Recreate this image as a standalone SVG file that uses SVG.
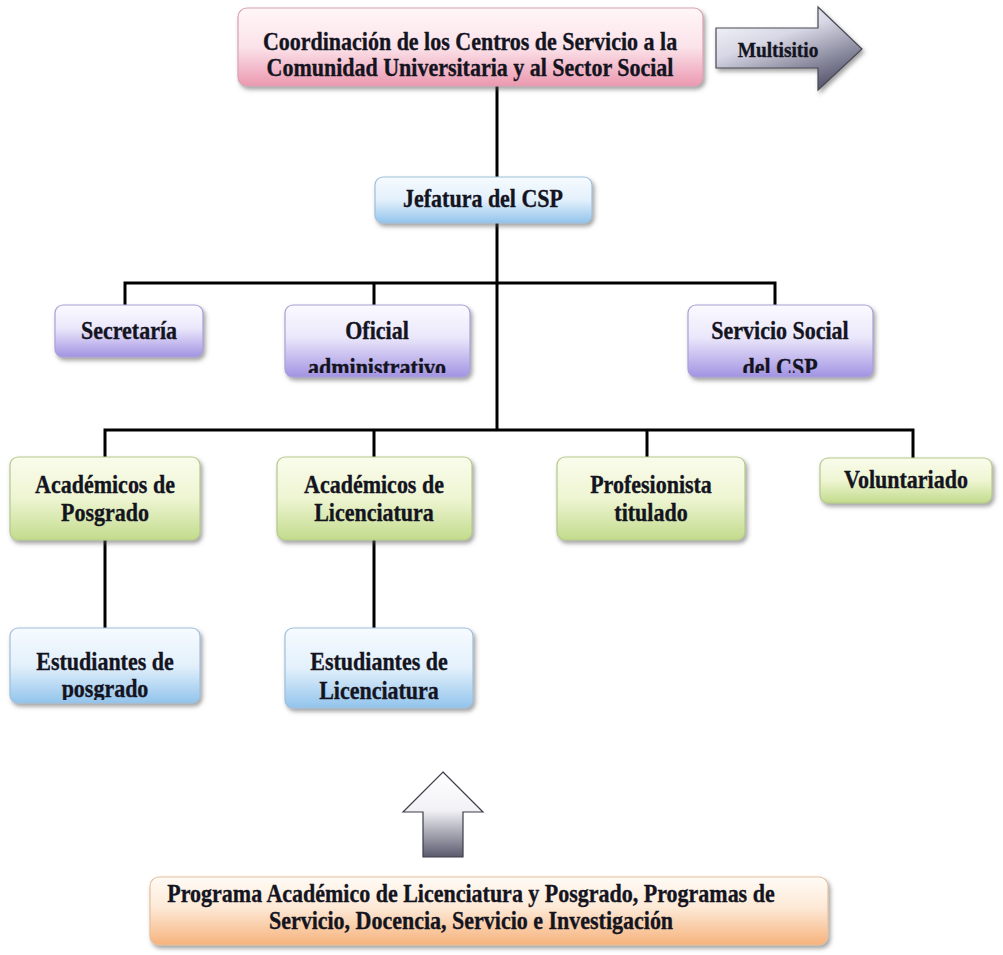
<svg xmlns="http://www.w3.org/2000/svg" width="1003" height="955" viewBox="0 0 1003 955">
  <defs>
    <style>
      .lbl { font-family: "Liberation Serif", "Times New Roman", serif; font-weight: bold; font-size: 25px; fill: #14141f; stroke: #14141f; stroke-width: 0.35; text-anchor: middle; }
      .sm { font-size: 22px; }
      .box { stroke-width: 1.2; filter: url(#shadow); }
      .pink { fill: url(#gPink); stroke: #d7a3b3; }
      .blue { fill: url(#gBlue); stroke: #9fbfdc; }
      .violet { fill: url(#gViolet); stroke: #aaa0d8; }
      .green { fill: url(#gGreen); stroke: #b5c98e; }
      .orange { fill: url(#gOrange); stroke: #e6c09c; }
      .wire { fill: none; stroke: #000; stroke-width: 3; }
    </style>
    <filter id="shadow" x="-10%" y="-20%" width="125%" height="150%">
      <feDropShadow dx="2" dy="3" stdDeviation="2" flood-color="#555" flood-opacity="0.55"/>
    </filter>
    <linearGradient id="gPink" x1="0" y1="0" x2="0" y2="1">
      <stop offset="0" stop-color="#fff6f8"/>
      <stop offset="0.5" stop-color="#fbe3ea"/>
      <stop offset="1" stop-color="#eb98b0"/>
    </linearGradient>
    <linearGradient id="gBlue" x1="0" y1="0" x2="0" y2="1">
      <stop offset="0" stop-color="#f6fbff"/>
      <stop offset="0.5" stop-color="#e3f0fb"/>
      <stop offset="1" stop-color="#92c4ec"/>
    </linearGradient>
    <linearGradient id="gViolet" x1="0" y1="0" x2="0" y2="1">
      <stop offset="0" stop-color="#fbfaff"/>
      <stop offset="0.45" stop-color="#ebe7fb"/>
      <stop offset="1" stop-color="#a293e2"/>
    </linearGradient>
    <linearGradient id="gGreen" x1="0" y1="0" x2="0" y2="1">
      <stop offset="0" stop-color="#fafcec"/>
      <stop offset="0.5" stop-color="#eef5d2"/>
      <stop offset="1" stop-color="#c2db8c"/>
    </linearGradient>
    <linearGradient id="gOrange" x1="0" y1="0" x2="0" y2="1">
      <stop offset="0" stop-color="#fffbf6"/>
      <stop offset="0.45" stop-color="#fde9d6"/>
      <stop offset="1" stop-color="#f6b27c"/>
    </linearGradient>
    <linearGradient id="gArrowR" x1="0" y1="0" x2="0.6" y2="1">
      <stop offset="0" stop-color="#ffffff"/>
      <stop offset="0.45" stop-color="#d8d8e6"/>
      <stop offset="1" stop-color="#5c5c74"/>
    </linearGradient>
    <linearGradient id="gArrowU" x1="0" y1="0" x2="0" y2="1">
      <stop offset="0" stop-color="#ffffff"/>
      <stop offset="0.45" stop-color="#f2f2f6"/>
      <stop offset="1" stop-color="#5a5a6e"/>
    </linearGradient>
    <!-- clip areas for labels that overflow the box bottom -->
    <clipPath id="clipOficial"><rect x="285" y="305" width="185" height="68"/></clipPath>
    <clipPath id="clipServicio"><rect x="688" y="305" width="185" height="68"/></clipPath>
    <clipPath id="clipEstPos"><rect x="10" y="628" width="190" height="72"/></clipPath>
  </defs>

  <rect width="1003" height="955" fill="#ffffff"/>

  <!-- connectors -->
  <g id="connectors">
    <path class="wire" d="M497 86 V177"/>
    <path class="wire" d="M497 223 V430"/>
    <path class="wire" d="M125 305 V283 H775 V305"/>
    <path class="wire" d="M374 283 V305"/>
    <path class="wire" d="M105 457 V430 H913 V458"/>
    <path class="wire" d="M374 430 V457"/>
    <path class="wire" d="M647 430 V457"/>
    <path class="wire" d="M105 540 V628"/>
    <path class="wire" d="M374 540 V628"/>
  </g>

  <!-- labels use a narrowed serif: translate to the anchor, then squeeze horizontally -->
  <g id="coordinacion">
    <rect class="box pink" x="238" y="8" width="465" height="78" rx="9"/>
    <text class="lbl" transform="translate(470 50) scale(0.88 1)">Coordinación de los Centros de Servicio a la</text>
    <text class="lbl" transform="translate(470 76) scale(0.88 1)">Comunidad Universitaria y al Sector Social</text>
  </g>

  <g id="multisitio">
    <path d="M716 28 H818 V7 L862 49 L818 90 V68 H716 Z" fill="url(#gArrowR)" stroke="#4a4a55" stroke-width="1.2" filter="url(#shadow)"/>
    <text class="lbl sm" transform="translate(778 57) scale(0.88 1)">Multisitio</text>
  </g>

  <g id="jefatura">
    <rect class="box blue" x="375" y="177" width="217" height="46" rx="8"/>
    <text class="lbl" transform="translate(483 207) scale(0.88 1)">Jefatura del CSP</text>
  </g>

  <g id="secretaria">
    <rect class="box violet" x="55" y="305" width="148" height="52" rx="8"/>
    <text class="lbl" transform="translate(129 339) scale(0.88 1)">Secretaría</text>
  </g>

  <g id="oficial">
    <rect class="box violet" x="285" y="305" width="185" height="72" rx="8"/>
    <g clip-path="url(#clipOficial)">
      <text class="lbl" transform="translate(377 339) scale(0.88 1)">Oficial</text>
      <text class="lbl" transform="translate(377 376) scale(0.88 1)">administrativo</text>
    </g>
  </g>

  <g id="servicio-social">
    <rect class="box violet" x="688" y="305" width="185" height="72" rx="8"/>
    <g clip-path="url(#clipServicio)">
      <text class="lbl" transform="translate(780 339) scale(0.88 1)">Servicio Social</text>
      <text class="lbl" transform="translate(780 376) scale(0.88 1)">del CSP</text>
    </g>
  </g>

  <g id="academicos-posgrado">
    <rect class="box green" x="10" y="457" width="190" height="83" rx="8"/>
    <text class="lbl" transform="translate(105 493) scale(0.88 1)">Académicos de</text>
    <text class="lbl" transform="translate(105 521) scale(0.88 1)">Posgrado</text>
  </g>

  <g id="academicos-licenciatura">
    <rect class="box green" x="277" y="457" width="195" height="83" rx="8"/>
    <text class="lbl" transform="translate(374 493) scale(0.88 1)">Académicos de</text>
    <text class="lbl" transform="translate(374 521) scale(0.88 1)">Licenciatura</text>
  </g>

  <g id="profesionista">
    <rect class="box green" x="557" y="457" width="188" height="83" rx="8"/>
    <text class="lbl" transform="translate(651 493) scale(0.88 1)">Profesionista</text>
    <text class="lbl" transform="translate(651 521) scale(0.88 1)">titulado</text>
  </g>

  <g id="voluntariado">
    <rect class="box green" x="820" y="458" width="172" height="45" rx="8"/>
    <text class="lbl" transform="translate(906 488) scale(0.88 1)">Voluntariado</text>
  </g>

  <g id="estudiantes-posgrado">
    <rect class="box blue" x="10" y="628" width="190" height="75" rx="8"/>
    <g clip-path="url(#clipEstPos)">
      <text class="lbl" transform="translate(105 670) scale(0.88 1)">Estudiantes de</text>
      <text class="lbl" transform="translate(105 697) scale(0.88 1)">posgrado</text>
    </g>
  </g>

  <g id="estudiantes-licenciatura">
    <rect class="box blue" x="285" y="628" width="188" height="80" rx="8"/>
    <text class="lbl" transform="translate(379 670) scale(0.88 1)">Estudiantes de</text>
    <text class="lbl" transform="translate(379 699) scale(0.88 1)">Licenciatura</text>
  </g>

  <g id="flecha-programas">
    <path d="M443 772 L483 812 H463 V857 H423 V812 H403 Z" fill="url(#gArrowU)" stroke="#3c3c48" stroke-width="1.2"/>
  </g>

  <g id="programas">
    <rect class="box orange" x="150" y="877" width="678" height="68" rx="9"/>
    <text class="lbl" transform="translate(471 902) scale(0.88 1)">Programa Académico de Licenciatura y Posgrado, Programas de</text>
    <text class="lbl" transform="translate(471 929) scale(0.88 1)">Servicio, Docencia, Servicio e Investigación</text>
  </g>
</svg>
